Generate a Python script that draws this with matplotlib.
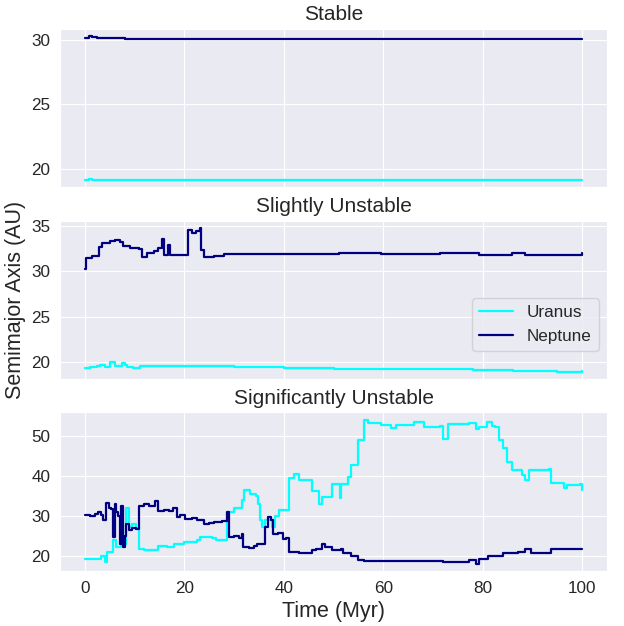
import matplotlib
matplotlib.use("Agg")
import matplotlib.pyplot as plt
import seaborn as sns

# Stable run
t_stable = [0, 0.8, 1.5, 2.5, 4, 8, 15, 25, 40, 60, 80, 100]
uranus_stable = [19.18, 19.2, 19.17, 19.15, 19.17, 19.17, 19.17, 19.17, 19.17, 19.17, 19.17, 19.17]
neptune_stable = [30.15, 30.27, 30.2, 30.1, 30.08, 30.06, 30.05, 30.04, 30.03, 30.03, 30.03, 30.02]

# Slightly unstable run
t_slight_nep = [0, 0.3, 1.5, 2.9, 3.5, 5, 6, 7, 7.6, 9, 10.9, 11.6, 12.5, 14, 14.8,
                15.5, 16.0, 16.7, 17.2, 20.4, 20.8, 21.5, 22.3, 23.1, 23.4, 24.0,
                26, 28, 40, 51, 59.5, 71.4, 79.2, 85.8, 88.4, 100]
neptune_slight = [30.2, 31.5, 31.7, 32.7, 33.1, 33.3, 33.5, 33.2, 32.8, 32.6, 32.5, 31.6,
                  32.0, 32.2, 32.6, 33.6, 31.8, 32.9, 31.8, 31.8, 34.6, 34.2, 34.5, 34.8,
                  32.4, 31.6, 31.7, 31.9, 31.9, 32.05, 31.95, 32.05, 31.85, 32.05, 31.85, 32.0]
t_slight_ura = [0, 1, 2.5, 3, 4, 5, 6, 7.4, 8, 8.5, 9.7, 11, 20, 30, 40, 50, 60, 70,
                78, 82, 86, 90, 95, 100]
uranus_slight = [19.35, 19.45, 19.5, 19.7, 19.4, 20.0, 19.6, 19.9, 19.7, 19.4, 19.3, 19.5,
                 19.5, 19.4, 19.35, 19.2, 19.2, 19.2, 19.1, 19.15, 19.05, 18.95, 18.9, 19.0]

# Significantly unstable run
t_sig_nep = [0, 1, 2, 2.7, 3.2, 3.7, 4.3, 4.8, 5.3, 5.6, 6.0, 6.3, 6.6, 7.0, 7.3, 7.6,
             8.0, 8.3, 8.8, 9.5, 10.2, 10.9, 12.0, 13.0, 14.2, 14.8, 16.0, 17.0, 17.8,
             18.5, 19.2, 20.1, 21.5, 22.5, 24.0, 25.0, 26.0, 27.5, 28.5, 29.0, 30.0,
             31.0, 31.6, 31.9, 33.0, 34.0, 34.6, 36.2, 36.9, 37.4, 37.8, 38.8, 39.8,
             40.5, 41.1, 43.0, 45.7, 46.4, 47.7, 48.3, 49.7, 51.6, 52.0, 53.6, 55.0,
             56.2, 65.0, 72.0, 77.3, 78.6, 79.2, 81.0, 84.0, 87.0, 88.4, 89.7, 93.4,
             93.7, 100]
neptune_sig = [30.4, 30.1, 30.5, 31.0, 30.2, 29.0, 33.3, 32.0, 31.8, 24.8, 33.0, 31.0,
               30.0, 23.2, 32.5, 22.3, 25.0, 28.0, 26.5, 27.0, 26.8, 32.5, 33.0, 32.6,
               33.8, 31.3, 31.6, 31.4, 32.0, 29.8, 30.2, 29.3, 29.6, 29.0, 28.0, 28.3,
               28.5, 28.8, 31.0, 24.8, 25.1, 24.6, 25.5, 22.3, 22.0, 22.6, 23.0, 27.3,
               29.8, 29.0, 25.5, 25.8, 24.3, 24.6, 21.0, 20.8, 21.5, 21.9, 23.0, 22.3,
               21.5, 21.9, 20.8, 20.2, 19.0, 18.8, 18.85, 18.7, 19.0, 18.2, 19.4, 20.2,
               20.8, 21.0, 21.9, 20.8, 20.9, 21.9, 21.8]
t_sig_ura = [0, 3.3, 4.0, 4.5, 5.6, 6.2, 7.3, 7.9, 8.3, 8.8, 9.5, 10.3, 10.9, 12.0, 14.8,
             16.5, 18.0, 20.0, 22.5, 23.2, 25.5, 26.3, 28.5, 30.0, 31.7, 32.0, 33.3,
             34.5, 34.9, 35.2, 35.7, 36.2, 37.6, 38.2, 39.0, 41.1, 42.0, 43.0, 45.7,
             47.0, 47.7, 49.7, 51.3, 51.6, 52.9, 53.6, 54.9, 56.2, 57.0, 59.5, 61.5,
             62.5, 66.1, 68.1, 71.4, 72.0, 73.0, 77.3, 78.6, 79.2, 80.9, 81.8, 82.5,
             83.2, 84.0, 84.8, 85.8, 87.8, 88.4, 89.3, 89.7, 93.4, 93.7, 96.3, 97.0,
             99.6, 99.9, 100]
uranus_sig = [19.3, 20.0, 18.6, 21.0, 24.0, 22.3, 24.8, 23.0, 32.0, 27.3, 28.0, 27.0,
              21.9, 21.5, 22.7, 22.3, 23.2, 23.6, 24.0, 24.8, 24.5, 24.0, 31.0, 32.0,
              34.0, 36.5, 35.5, 35.0, 33.0, 29.0, 27.3, 29.0, 27.3, 30.0, 31.5, 39.4,
              40.5, 39.0, 36.2, 33.0, 34.7, 38.1, 34.4, 38.1, 39.8, 42.7, 48.9, 54.0,
              53.1, 52.7, 51.8, 52.7, 53.4, 52.2, 52.5, 49.3, 52.9, 53.2, 51.6, 52.2,
              53.4, 52.5, 52.2, 48.9, 46.9, 43.5, 41.4, 40.2, 39.0, 41.4, 41.6, 41.8,
              38.3, 36.9, 37.7, 37.9, 36.9, 36.5]

sns.set_style("darkgrid")
plt.rcParams['font.family'] = ['Liberation Sans', 'DejaVu Sans']

fig, axes = plt.subplots(3, 1, figsize=(6.24, 6.26), dpi=100, sharex=True)
fig.subplots_adjust(left=0.096, right=0.973, top=0.954, bottom=0.088, hspace=0.21)

runs = [
    ("Stable", t_stable, uranus_stable, t_stable, neptune_stable),
    ("Slightly Unstable", t_slight_ura, uranus_slight, t_slight_nep, neptune_slight),
    ("Significantly Unstable", t_sig_ura, uranus_sig, t_sig_nep, neptune_sig),
]
for ax, (title, tu, u, tn, n) in zip(axes, runs):
    ax.plot(tu, u, color='cyan', lw=1.6, drawstyle='steps-post', label='Uranus')
    ax.plot(tn, n, color='navy', lw=1.6, drawstyle='steps-post', label='Neptune')
    ax.set_title(title, fontsize=15)
    ax.tick_params(labelsize=12.3)

axes[0].set_yticks([20, 25, 30])
axes[1].set_yticks([20, 25, 30, 35])
axes[2].set_yticks([20, 30, 40, 50])
axes[2].set_xticks([0, 20, 40, 60, 80, 100])

axes[1].legend(loc='center right', bbox_to_anchor=(1, 0.344), fontsize=12.3)
axes[1].set_ylabel('Semimajor Axis (AU)', fontsize=15.5)
axes[2].set_xlabel('Time (Myr)', fontsize=15.5)

fig.savefig("out.png")
